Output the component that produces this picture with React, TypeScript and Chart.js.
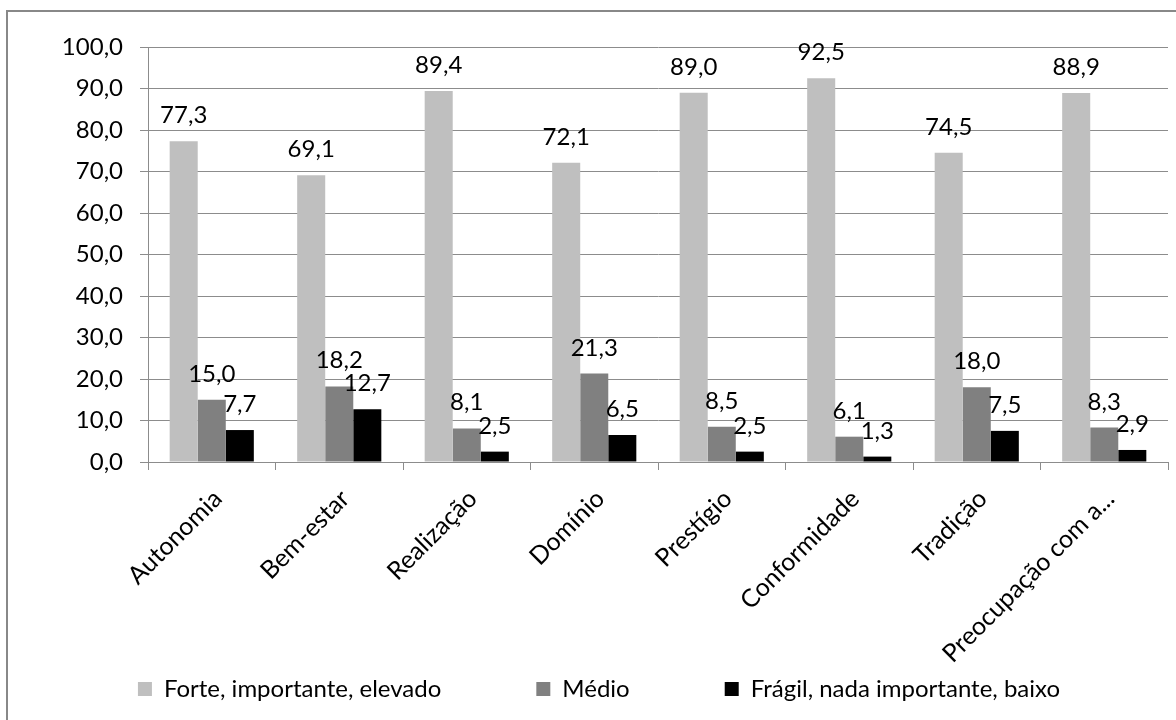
import React, { useEffect, useRef } from "react";
import { Chart, registerables } from "chart.js";

Chart.register(...registerables);

const categories = [
  "Autonomia",
  "Bem-estar",
  "Realização",
  "Domínio",
  "Prestígio",
  "Conformidade",
  "Tradição",
  "Preocupação com a...",
];
const seriesNames = [
  "Forte, importante, elevado",
  "Médio",
  "Frágil, nada importante, baixo",
];
const forteValues = [77.3, 69.1, 89.4, 72.1, 89.0, 92.5, 74.5, 88.9];
const medioValues = [15.0, 18.2, 8.1, 21.3, 8.5, 6.1, 18.0, 8.3];
const fragilValues = [7.7, 12.7, 2.5, 6.5, 2.5, 1.3, 7.5, 2.9];
const yMin = 0;
const yMax = 100;
const yStep = 10;

const seriesColors = ["#BFBFBF", "#808080", "#000000"];
const FONT = "Lato";
const FONT_SIZE = 24;
const AXIS_COLOR = "#8c8c8c";

const fmt = (v: number) => v.toFixed(1).replace(".", ",");

const valueLabels = {
  id: "valueLabels",
  afterDatasetsDraw(chart: any) {
    const ctx = chart.ctx;
    ctx.save();
    ctx.font = `${FONT_SIZE}px ${FONT}`;
    ctx.fillStyle = "#000";
    ctx.textAlign = "center";
    ctx.textBaseline = "alphabetic";
    chart.data.datasets.forEach((ds: any, i: number) => {
      const meta = chart.getDatasetMeta(i);
      meta.data.forEach((bar: any, j: number) => {
        ctx.fillText(fmt(ds.data[j]), bar.x, bar.y - 18);
      });
    });
    ctx.restore();
  },
};

export default function App() {
  const canvasRef = useRef<HTMLCanvasElement | null>(null);

  useEffect(() => {
    document.body.style.margin = "0";
    document.body.style.overflow = "hidden";
    const canvas = canvasRef.current;
    if (!canvas) return;
    Chart.defaults.font.family = FONT;
    Chart.defaults.font.size = FONT_SIZE;
    Chart.defaults.color = "#000";

    const chart = new Chart(canvas, {
      type: "bar",
      data: {
        labels: categories,
        datasets: [forteValues, medioValues, fragilValues].map((d, i) => ({
          label: seriesNames[i],
          data: d,
          backgroundColor: seriesColors[i],
          borderWidth: 0,
          barPercentage: 1,
          categoryPercentage: 0.66,
        })),
      },
      options: {
        responsive: false,
        animation: false,
        layout: { padding: { top: 47, right: 8, bottom: 9, left: 30 } },
        plugins: {
          tooltip: { enabled: false },
          legend: {
            position: "bottom",
            labels: {
              boxWidth: 14,
              boxHeight: 14,
              padding: 95,
              color: "#000",
              font: { family: FONT, size: FONT_SIZE },
            },
          },
        },
        scales: {
          x: {
            offset: true,
            grid: {
              offset: true,
              drawOnChartArea: false,
              drawTicks: true,
              tickLength: 8,
              color: AXIS_COLOR,
            },
            border: { color: AXIS_COLOR, width: 1 },
            ticks: {
              autoSkip: false,
              minRotation: 45,
              maxRotation: 45,
              padding: 14,
              labelOffset: 6,
              color: "#000",
              font: { family: FONT, size: 25 },
            },
            afterFit(scale: any) {
              scale.height = 120;
              scale._computeLabelArea = () => undefined;
            },
          },
          y: {
            min: yMin,
            max: yMax,
            grid: {
              color: AXIS_COLOR,
              drawTicks: true,
              tickLength: 8,
            },
            border: { color: AXIS_COLOR, width: 1 },
            ticks: {
              stepSize: yStep,
              padding: 17,
              color: "#000",
              font: { family: FONT, size: FONT_SIZE },
              callback: (v: any) => fmt(Number(v)),
            },
            afterFit(scale: any) {
              scale.width = 118;
            },
          },
        },
      },
      plugins: [valueLabels],
    });
    return () => chart.destroy();
  }, []);

  return (
    <div
      style={{
        position: "fixed",
        left: 0,
        top: 0,
        width: 1176,
        height: 720,
        overflow: "hidden",
        background: "#fff",
      }}
    >
      <div
        style={{
          position: "absolute",
          left: 6,
          top: 10,
          width: 1200,
          height: 740,
          border: "2px solid #888",
          boxSizing: "border-box",
        }}
      />
      <canvas
        ref={canvasRef}
        width={1176}
        height={720}
        style={{ position: "absolute", left: 0, top: 0, width: 1176, height: 720 }}
      />
    </div>
  );
}
